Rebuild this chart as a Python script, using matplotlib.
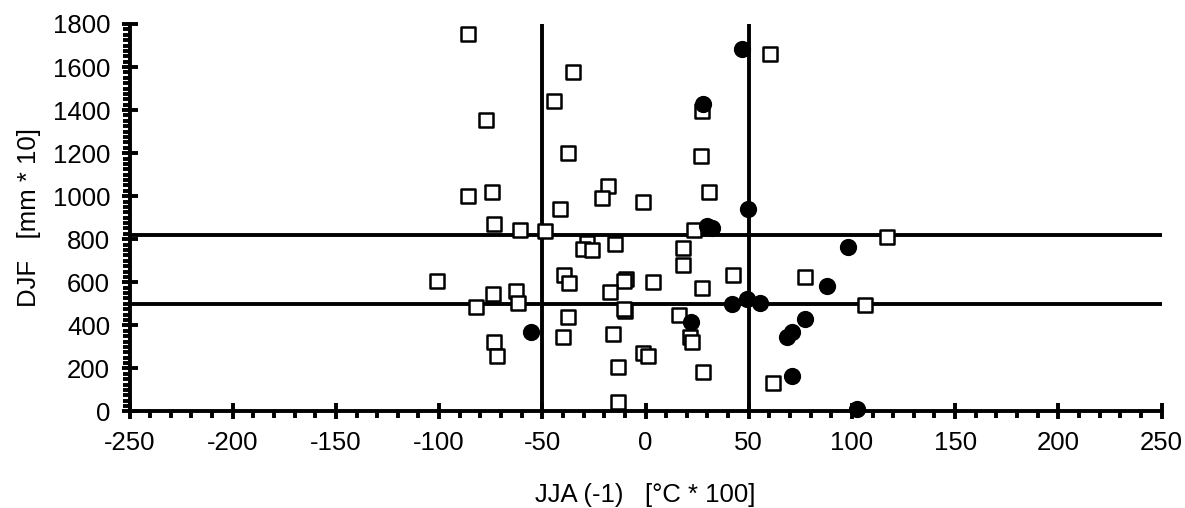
import matplotlib
matplotlib.use("Agg")
import matplotlib.pyplot as plt
from matplotlib.ticker import MultipleLocator

plt.rcParams['font.family'] = ['Liberation Sans', 'DejaVu Sans']
plt.rcParams['axes.unicode_minus'] = False

# open squares
sq_x = [-86.1, 60.3, -35.0, -44.5, 27.5, -77.1, -37.4, 26.9, -86.1, -74.5,
        -18.0, -21.2, -1.1, 30.6, -41.4, -73.3, -60.7, -48.7, 23.6, -28.5,
        -30.4, -25.8, -14.8, 18.0, 18.3, 42.5, 77.3, -100.9, -39.5, -37.2,
        -9.4, -10.5, 3.5, -17.2, 27.2, -73.7, -62.6, -61.6, -82.0, -9.9,
        -10.2, -37.7, 16.1, -39.8, -15.6, 21.6, 22.5, -73.4, -71.8, -1.1,
        1.2, -13.5, 28.0, -13.5, 61.6, 116.9, 106.3]
sq_y = [1752, 1659, 1575, 1442, 1397, 1355, 1199, 1187, 1002, 1020,
        1049, 993, 975, 1020, 939, 869, 843, 838, 843, 781,
        755, 750, 777, 761, 679, 634, 625, 608, 633, 598,
        614, 605, 601, 556, 575, 547, 558, 502, 485, 468,
        475, 440, 447, 348, 360, 345, 324, 321, 259, 270,
        258, 208, 185, 43, 134, 812, 495]

# filled circles
ci_x = [46.6, 28.0, 49.8, 30.0, 32.1, 42.1, 49.0, 55.5, 22.0, -55.5,
        77.3, 70.8, 68.4, 71.0, 98.0, 88.1, 102.3]
ci_y = [1682, 1427, 942, 862, 851, 501, 523, 505, 417, 371,
        430, 371, 348, 166, 765, 583, 12]

# reference lines
hlines = [820, 500]
vlines = [-50, 50]

fig = plt.figure(figsize=(11.85, 5.08), dpi=100)
ax = fig.add_axes([0.1093, 0.19, 0.8709, 0.7628])

for h in hlines:
    ax.plot([-250, 250], [h, h], color='black', lw=2.8, zorder=2,
            solid_capstyle='round')
for v in vlines:
    ax.plot([v, v], [0, 1800], color='black', lw=2.8, zorder=2,
            solid_capstyle='round')

ax.scatter(sq_x, sq_y, marker='s', s=100, facecolor='white',
           edgecolor='black', linewidths=1.8, zorder=3, clip_on=False)
ax.scatter(ci_x, ci_y, marker='o', s=130, facecolor='black',
           edgecolor='black', linewidths=1, zorder=4, clip_on=False)

ax.set_xlim(-250, 250)
ax.set_ylim(0, 1800)
ax.xaxis.set_major_locator(MultipleLocator(50))
ax.xaxis.set_minor_locator(MultipleLocator(10))
ax.yaxis.set_major_locator(MultipleLocator(200))
ax.yaxis.set_minor_locator(MultipleLocator(25))

for s in ['top', 'right']:
    ax.spines[s].set_visible(False)
for s in ['left', 'bottom']:
    ax.spines[s].set_linewidth(2.8)
    ax.spines[s].set_capstyle('round')

ax.tick_params(which='major', direction='inout', length=12, width=2.8,
               labelsize=18.5, pad=8)
ax.tick_params(which='minor', direction='out', length=5, width=2.8)

ax.set_xlabel('JJA (-1)   [°C * 100]', fontsize=18.5, labelpad=20)
ax.set_ylabel('DJF   [mm * 10]', fontsize=18.5, labelpad=8)

fig.savefig('out.png', dpi=100)
